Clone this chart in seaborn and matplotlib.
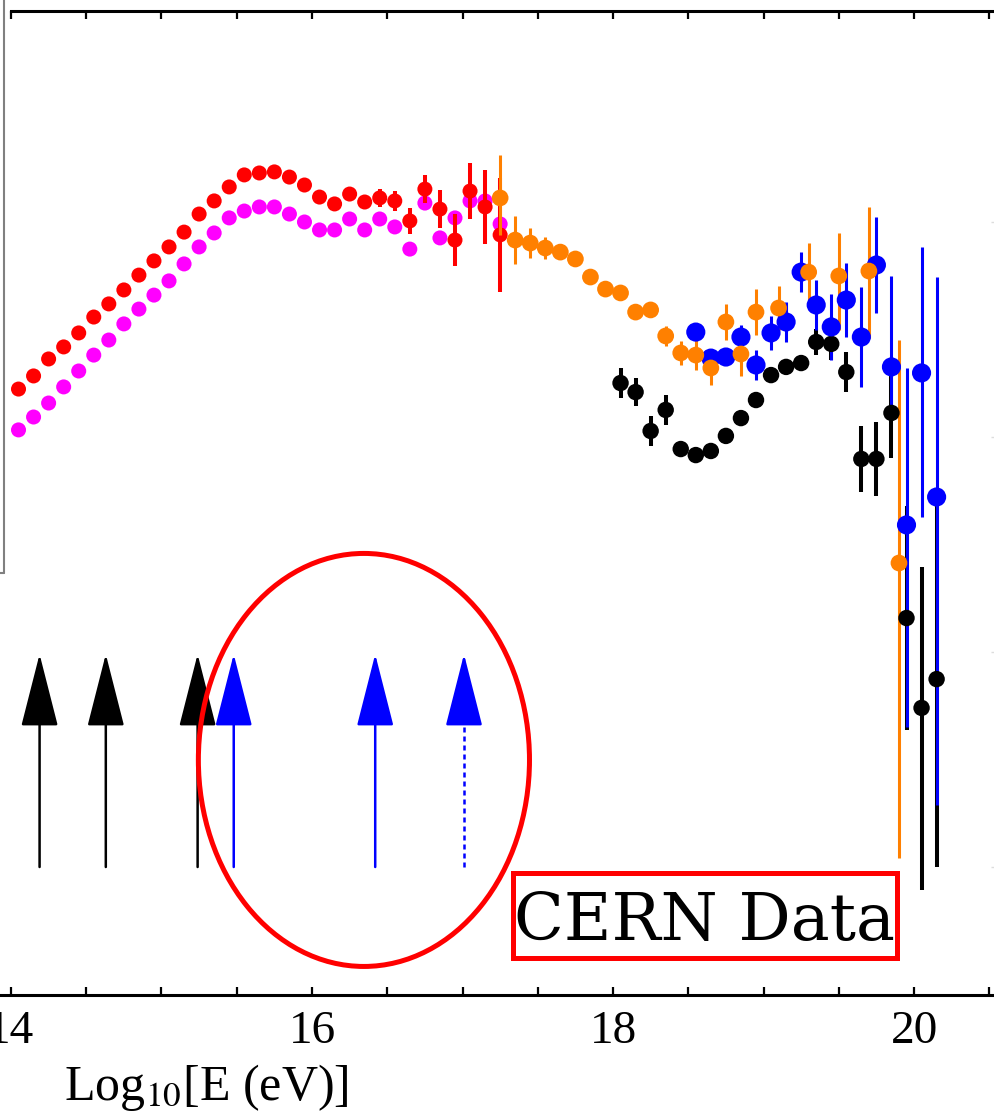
import numpy as np
import pandas as pd
import matplotlib
matplotlib.use("Agg")
import matplotlib.pyplot as plt
import seaborn as sns
from matplotlib.patches import Ellipse, Rectangle
from matplotlib.lines import Line2D

# ---------------- data ----------------
red_x = [14.05, 14.15, 14.25, 14.35, 14.45, 14.55, 14.65, 14.75, 14.85, 14.95,
         15.05, 15.15, 15.25, 15.35, 15.45, 15.55, 15.65, 15.75, 15.85, 15.95,
         16.05, 16.15, 16.25, 16.35, 16.45, 16.55, 16.65, 16.75, 16.85, 16.95,
         17.05, 17.15, 17.25]
red_y = [3.223, 3.284, 3.363, 3.419, 3.484, 3.558, 3.619, 3.684, 3.753, 3.819,
         3.884, 3.953, 4.037, 4.098, 4.163, 4.219, 4.228, 4.233, 4.209, 4.172,
         4.116, 4.084, 4.130, 4.093, 4.112, 4.098, 4.005, 4.153, 4.060, 3.916,
         4.144, 4.070, 3.940]
red_err = [0, 0, 0, 0, 0, 0, 0, 0, 0, 0,
           0, 0, 0, 0, 0, 0, 0, 0, 0, 0,
           0, 0, 0, 0, 0.042, 0.047, 0.060, 0.065, 0.088, 0.121,
           0.130, 0.172, 0.265]

magenta_x = red_x
magenta_y = [3.033, 3.093, 3.158, 3.233, 3.307, 3.381, 3.451, 3.526, 3.595, 3.660,
             3.726, 3.805, 3.884, 3.949, 4.019, 4.051, 4.070, 4.070, 4.037, 4.000,
             3.963, 3.963, 4.014, 3.963, 4.014, 3.977, 3.874, 4.088, 3.926, 4.019,
             4.098, 4.098, 3.991]

orange_x = [17.25, 17.35, 17.45, 17.55, 17.65, 17.75, 17.85, 17.95, 18.05, 18.15,
            18.25, 18.35, 18.45, 18.55, 18.65, 18.75, 18.85, 18.95, 19.1, 19.3,
            19.5, 19.7, 19.9]
orange_y = [4.112, 3.916, 3.902, 3.879, 3.860, 3.828, 3.744, 3.688, 3.670, 3.581,
            3.591, 3.470, 3.391, 3.381, 3.321, 3.535, 3.386, 3.581, 3.600, 3.767,
            3.749, 3.772, 2.414]
orange_lo = [0.172, 0.112, 0.070, 0.051, 0.019, 0, 0, 0, 0, 0,
             0, 0.047, 0.056, 0.070, 0.079, 0.084, 0.102, 0.107, 0.102, 0.135,
             0.251, 0.312, 1.372]
orange_hi = [0.200, 0.112, 0.070, 0.051, 0.019, 0, 0, 0, 0, 0,
             0, 0.047, 0.056, 0.070, 0.079, 0.084, 0.102, 0.107, 0.102, 0.135,
             0.200, 0.298, 1.037]

blue_x = [18.55, 18.65, 18.75, 18.85, 18.95, 19.05, 19.15, 19.25, 19.35, 19.45,
          19.55, 19.65, 19.75, 19.85, 19.95, 20.05, 20.15]
blue_y = [3.488, 3.367, 3.372, 3.465, 3.335, 3.484, 3.535, 3.767, 3.614, 3.512,
          3.637, 3.465, 3.800, 3.326, 2.591, 3.298, 2.721]
blue_lo = [0.019, 0.033, 0.037, 0.056, 0.070, 0.079, 0.093, 0.093, 0.116, 0.153,
           0.172, 0.233, 0.223, 0.214, 0.940, 0.670, 1.433]
blue_hi = [0.019, 0.033, 0.037, 0.056, 0.070, 0.079, 0.093, 0.093, 0.116, 0.153,
           0.172, 0.233, 0.223, 0.423, 0.730, 0.586, 1.023]

black_x = [18.05, 18.15, 18.25, 18.35, 18.45, 18.55, 18.65, 18.75, 18.85, 18.95,
           19.05, 19.15, 19.25, 19.35, 19.45, 19.55, 19.65, 19.75, 19.85, 19.95,
           20.05, 20.15]
black_y = [3.251, 3.209, 3.028, 3.126, 2.944, 2.916, 2.935, 3.005, 3.088, 3.172,
           3.288, 3.326, 3.344, 3.442, 3.433, 3.302, 2.898, 2.898, 3.112, 2.158,
           1.740, 1.874]
black_lo = [0.070, 0.065, 0.070, 0.070, 0.015, 0.015, 0.015, 0.015, 0.015, 0.015,
            0.015, 0.015, 0.015, 0.060, 0.074, 0.093, 0.153, 0.172, 0.209, 0.520,
            0.847, 0.874]
black_hi = [0.070, 0.065, 0.070, 0.070, 0.015, 0.015, 0.015, 0.015, 0.015, 0.015,
            0.015, 0.015, 0.015, 0.060, 0.074, 0.093, 0.153, 0.172, 0.209, 0.520,
            0.656, 0.837]

arrows_black_x = [14.19, 14.63, 15.24]
arrows_blue_x = [15.48, 16.42]
arrows_blue_dotted_x = [17.01]
arrow_tail_y = 1.0
arrow_tip_y = 1.99
arrow_head_base_y = 1.69

xtick_major = [14, 16, 18, 20]
xtick_minor = [14.5, 15, 15.5, 16.5, 17, 17.5, 18.5, 19, 19.5, 20.5]
xlabel = "Log$_{10}$[E (eV)]"
box_text = "CERN Data"

# ---------------- style ----------------
sns.set_theme(style="white")
plt.rcParams["font.family"] = ["Liberation Serif", "DejaVu Serif"]
plt.rcParams["mathtext.fontset"] = "stix"
plt.rcParams["text.color"] = "black"
plt.rcParams["axes.labelcolor"] = "black"
plt.rcParams["xtick.color"] = "black"

fig = plt.figure(figsize=(9.95, 11.14), dpi=100)
ax = fig.add_axes([0.0, 0.10682, 1.0, 0.88331])
ax.set_xlim(13.927, 20.538)
ax.set_ylim(0.4047, 4.9814)

RED = "#ff0000"
MAG = "#ff00ff"
ORG = "#ff8000"
BLU = "#0000ff"
BLK = "#000000"

def df(x, y):
    return pd.DataFrame({"x": x, "y": y})

# magenta & red
sns.scatterplot(data=df(magenta_x, magenta_y), x="x", y="y", color=MAG, s=117,
                edgecolor="none", ax=ax, zorder=2, legend=False)
ax.errorbar(red_x, red_y, yerr=red_err, fmt="none", ecolor=RED, elinewidth=2.9,
            capsize=0, zorder=3)
sns.scatterplot(data=df(red_x, red_y), x="x", y="y", color=RED, s=117,
                edgecolor="none", ax=ax, zorder=3, legend=False)

# error bars of high-energy sets
ax.errorbar(black_x, black_y, yerr=[black_lo, black_hi], fmt="none", ecolor=BLK,
            elinewidth=2.9, capsize=0, zorder=4)
ax.errorbar(blue_x, blue_y, yerr=[blue_lo, blue_hi], fmt="none", ecolor=BLU,
            elinewidth=2.2, capsize=0, zorder=5)
ax.errorbar(orange_x, orange_y, yerr=[orange_lo, orange_hi], fmt="none", ecolor=ORG,
            elinewidth=2.2, capsize=0, zorder=6)

sns.scatterplot(data=df(black_x, black_y), x="x", y="y", color=BLK, s=140,
                edgecolor="none", ax=ax, zorder=7, legend=False)
sns.scatterplot(data=df(blue_x, blue_y), x="x", y="y", color=BLU, s=190,
                edgecolor="none", ax=ax, zorder=8, legend=False)
sns.scatterplot(data=df(orange_x, orange_y), x="x", y="y", color=ORG, s=145,
                edgecolor="none", ax=ax, zorder=9, legend=False)

# arrows
def arrow_head(x, color, tail):
    ax.annotate("", xy=(x, arrow_tip_y), xytext=(x, tail),
                arrowprops=dict(arrowstyle="-|>,head_length=2.75,head_width=0.7",
                                mutation_scale=17, lw=1.8, color=color,
                                shrinkA=0, shrinkB=0),
                zorder=5)

for xv in arrows_black_x:
    arrow_head(xv, BLK, arrow_tail_y)
for xv in arrows_blue_x:
    arrow_head(xv, BLU, arrow_tail_y)
for xv in arrows_blue_dotted_x:
    ax.plot([xv, xv], [arrow_tail_y, arrow_head_base_y], color=BLU, lw=1.8,
            linestyle=(0, (2.0, 1.6)), zorder=5)
    arrow_head(xv, BLU, arrow_head_base_y - 0.005)

# red ellipse & box
ax.add_patch(Ellipse((16.345, 1.498), width=2.20, height=1.921, fill=False,
                     edgecolor=RED, lw=3.6, zorder=6))
ax.add_patch(Rectangle((17.336, 0.577), 2.551, 0.395, fill=False,
                       edgecolor=RED, lw=3.6, zorder=6))
ax.text(18.611, 0.660, box_text, ha="center", va="baseline",
        fontsize=47, family=["DejaVu Serif"], color="black", zorder=7)

# axes styling
for side in ["left", "right"]:
    ax.spines[side].set_visible(False)
ax.spines["bottom"].set_linewidth(2.2)
ax.spines["top"].set_linewidth(2.2)
ax.spines["bottom"].set_color("black")
ax.spines["top"].set_color("black")
ax.spines["top"].set_bounds(14, 20.538)

ax.set_xticks(xtick_major)
ax.set_xticklabels([str(v) for v in xtick_major])
ax.set_xticks(xtick_minor, minor=True)
ax.tick_params(axis="x", which="both", direction="in", length=6, width=1.6,
               top=True, bottom=True, color="black", labelcolor="black",
               labelsize=34, pad=11)
ax.set_yticks([1, 2, 3, 4])
ax.tick_params(axis="y", which="both", left=False, right=True, labelleft=False,
               labelright=False, direction="in", length=3, width=1, color="#dddddd")
ax.set_xlabel(xlabel, fontsize=36, color="black")
ax.xaxis.set_label_coords(0.207, -0.094)
ax.xaxis.label.set_va("center")
ax.set_ylabel("")

# partial frame of neighbouring panel on the left
fig.add_artist(Line2D([4 / 995, 4 / 995], [1.0, 1 - 573 / 1114],
                      transform=fig.transFigure, color="#808080", lw=1.5))
fig.add_artist(Line2D([0, 4 / 995], [1 - 573 / 1114, 1 - 573 / 1114],
                      transform=fig.transFigure, color="#808080", lw=1.5))

fig.savefig("out.png", dpi=100)
